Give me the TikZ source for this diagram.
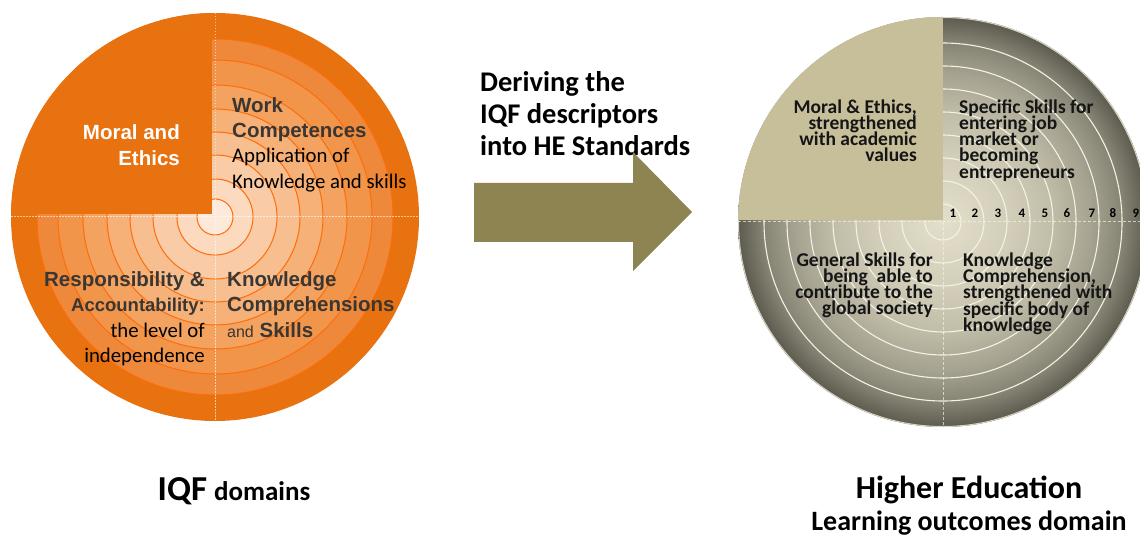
\documentclass[tikz,border=0pt]{standalone}
\usepackage{fontspec}
\setmainfont{Carlito}
\newfontfamily\arialfont{Liberation Sans}
\definecolor{obase}{HTML}{E8720F}
\definecolor{lr1}{HTML}{EE883A}
\definecolor{lr2}{HTML}{F09549}
\definecolor{lr3}{HTML}{F3A35F}
\definecolor{lr4}{HTML}{F5B177}
\definecolor{lr5}{HTML}{F7BF8F}
\definecolor{lr6}{HTML}{F9CCA7}
\definecolor{lr7}{HTML}{FBDABF}
\definecolor{lr8}{HTML}{FDEADB}
\definecolor{ringline}{HTML}{FF6C0A}
\definecolor{ltext}{HTML}{3A3633}
\definecolor{hc0}{HTML}{E3DFCB}
\definecolor{hc1}{HTML}{D2CEB9}
\definecolor{hc2}{HTML}{C2BEA9}
\definecolor{hc3}{HTML}{A6A391}
\definecolor{hc4}{HTML}{858373}
\definecolor{hc5}{HTML}{5C5B4F}
\definecolor{hrim}{HTML}{D8D4C2}
\definecolor{htan}{HTML}{C6BF9A}
\definecolor{hring}{HTML}{F5F2E4}
\definecolor{arrowc}{HTML}{8D8452}
\definecolor{rtext}{HTML}{151515}
\pgfdeclareradialshading{heshade}{\pgfpoint{0bp}{0bp}}{color(0bp)=(hc0); color(8bp)=(hc1); color(13bp)=(hc2); color(18bp)=(hc3); color(22bp)=(hc4); color(25bp)=(hc5); color(50bp)=(hc5)}
\begin{document}
\begin{tikzpicture}[x=1pt,y=-1pt,
  lw/.style={font=\arialfont\bfseries\fontsize{20.5}{25}\selectfont, text=white, inner sep=0},
  lb/.style={font=\arialfont\bfseries\fontsize{20.5}{25}\selectfont, text=ltext, inner sep=0},
  lr/.style={font=\fontsize{20.8}{25}\selectfont, text=black, inner sep=0},
  rt/.style={font=\bfseries\fontsize{19.5}{16}\selectfont, text=rtext, inner sep=0},
  num/.style={font=\bfseries\fontsize{13}{13}\selectfont, text=black, inner sep=0},
  mid/.style={font=\bfseries\fontsize{28.5}{32}\selectfont, text=black, inner sep=0},
  cline/.style={draw=white, line width=1pt, opacity=0.6, dash pattern=on 1.5pt off 1.5pt},
  hline/.style={draw=hring, line width=1pt, opacity=0.7, dash pattern=on 3pt off 2pt},
  hringline/.style={draw=hring, line width=1.1pt},
  oring/.style={draw=ringline, line width=1pt}]
\useasboundingbox (0,0) rectangle (1140,537);
\fill[white] (0,0) rectangle (1140,537);
\clip (0,0) rectangle (1140,537);
% ---------- left circle ----------
\coordinate (L) at (215,217);
\fill[obase] (L) circle[radius=204pt];
\foreach \r/\c in {178/lr1,157/lr2,132/lr3,108/lr4,85/lr5,62/lr6,38/lr7,18/lr8}
  {\fill[\c] (L) circle[radius=\r pt];}
\foreach \r in {178,157,132,108,85,62,38,18}
  {\draw[oring] (L) circle[radius=\r pt];}
\begin{scope}
  \clip (L) circle[radius=204pt];
  \fill[obase] (0,0) rectangle (212,214);
\end{scope}
\draw[cline] (215,13) -- (215,421);
\draw[cline] (11,217) -- (419,217);
\node[lw, anchor=base east] (me1) at (180,140) {Moral and};
\node[lw, anchor=base east] (me2) at (180,166) {Ethics};
\node[lb, anchor=base west] (wc1) at (232,113) {Work};
\node[lb, anchor=base west] (wc2) at (232,138) {Competences};
\node[lr, anchor=base west] (wc3) at (232,163) {Application of};
\node[lr, anchor=base west] (wc4) at (232,189) {Knowledge and skills};
\node[lb, anchor=base east] (ra1) at (205,287) {Responsibility \&};
\node[lb, anchor=base east, font=\arialfont\bfseries\fontsize{18.5}{22}\selectfont] (ra2) at (205,312) {Accountability:};
\node[lr, anchor=base east] (ra3) at (205,337) {the level of};
\node[lr, anchor=base east] (ra4) at (205,362) {independence};
\node[lb, anchor=base west] (kc1) at (227,287) {Knowledge};
\node[lb, anchor=base west] (kc2) at (227,312) {Comprehensions};
\node[lb, anchor=base west] (kc3) at (227,337) {{\mdseries\fontsize{16}{16}\selectfont and} Skills};
% ---------- arrow and middle text ----------
\node[mid, anchor=base west] (d1) at (480,92) {Deriving the};
\node[mid, anchor=base west] (d2) at (480,124) {IQF descriptors};
\node[mid, anchor=base west] (d3) at (480,156) {into HE Standards};
\fill[arrowc] (474,183) -- (633,183) -- (633,152) -- (692,212) -- (633,271) -- (633,242) -- (474,242) -- cycle;
% ---------- right circle ----------
\coordinate (R) at (943,222);
\shade[shading=heshade] (R) circle[radius=205pt];
\draw[hrim, line width=1pt] (R) circle[radius=204.5pt];
\foreach \r in {18,41,64,87,110,133,156,179}
  {\draw[hringline] (R) circle[radius=\r pt];}
\begin{scope}
  \clip (R) circle[radius=205pt];
  \fill[htan] (700,0) rectangle (943,220);
\end{scope}
\draw[hline] (943,222) -- (943,428);
\draw[hline] (738,222) -- (1148,222);
\node[rt, anchor=base east] (m1) at (917,113.3) {Moral \& Ethics,};
\node[rt, anchor=base east] (m2) at (917,129.5) {strengthened};
\node[rt, anchor=base east] (m3) at (917,145.7) {with academic};
\node[rt, anchor=base east] (m4) at (917,162) {values};
\node[rt, anchor=base west] (s1) at (959,113.3) {Specific Skills for};
\node[rt, anchor=base west] (s2) at (959,129.5) {entering job};
\node[rt, anchor=base west] (s3) at (959,145.7) {market or};
\node[rt, anchor=base west] (s4) at (959,162) {becoming};
\node[rt, anchor=base west] (s5) at (959,178.2) {entrepreneurs};
\node[rt, anchor=base east] (g1) at (933,266) {General Skills for};
\node[rt, anchor=base east] (g2) at (933,282.2) {being\ \ able to};
\node[rt, anchor=base east] (g3) at (933,298.4) {contribute to the};
\node[rt, anchor=base east] (g4) at (933,314.6) {global society};
\node[rt, anchor=base west] (k1) at (963,266.5) {Knowledge};
\node[rt, anchor=base west] (k2) at (963,282.7) {Comprehension,};
\node[rt, anchor=base west] (k3) at (963,298.9) {strengthened with};
\node[rt, anchor=base west] (k4) at (963,315.1) {specific body of};
\node[rt, anchor=base west] (k5) at (963,331.3) {knowledge};
\foreach \x [count=\i] in {953,975,998,1022,1045,1067,1092,1113,1136}
  {\node[num, anchor=base] (n\i) at (\x,218) {\i};}
% ---------- captions ----------
\node[anchor=base, inner sep=0, font=\bfseries] (iqf) at (234,500) {{\fontsize{35}{35}\selectfont IQF}\hspace{7pt}{\fontsize{27}{27}\selectfont domains}};
\node[anchor=base, inner sep=0, font=\bfseries\fontsize{32}{32}\selectfont] (he1) at (969,498) {Higher Education};
\node[anchor=base, inner sep=0, font=\bfseries\fontsize{28}{28}\selectfont] (he2) at (969,530) {Learning outcomes domain};
\end{tikzpicture}
\end{document}
